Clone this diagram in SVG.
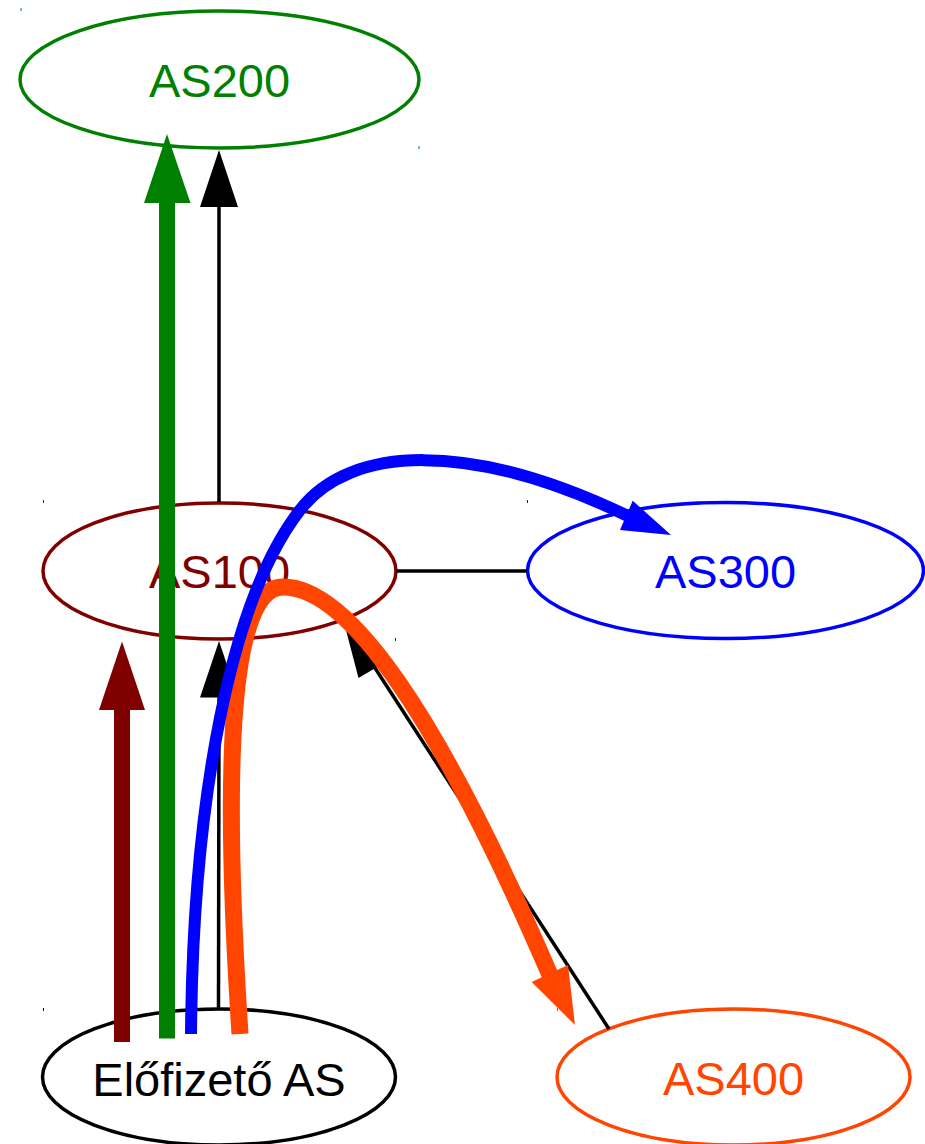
<svg xmlns="http://www.w3.org/2000/svg" width="925" height="1144" viewBox="0 0 925 1144">
<style>
  .node ellipse { fill: #ffffff; stroke-width: 3.5; }
  .node text { font-family: "Liberation Sans", Arial, sans-serif; font-size: 47px; text-anchor: middle; }
  .tick { stroke-width: 1; }
  .edge { fill: none; stroke: #000000; stroke-width: 3.5; }
  .route { fill: none; stroke-linecap: butt; }
</style>
<rect x="0" y="0" width="925" height="1144" fill="#ffffff"/>

<g id="AS200" class="node">
  <ellipse cx="219.5" cy="79.5" rx="199.5" ry="68.5" stroke="#008000"/>
  <text x="219.5" y="97" fill="#008000">AS200</text>
  <line class="tick" x1="21" y1="8" x2="21" y2="11" stroke="#008000"/>
  <line class="tick" x1="419" y1="146" x2="419" y2="149" stroke="#008000"/>
</g>

<g id="AS100" class="node">
  <ellipse cx="219.5" cy="571" rx="176.5" ry="68" stroke="#800000"/>
  <text x="219.5" y="588" fill="#800000">AS100</text>
  <line class="tick" x1="43.5" y1="500" x2="43.5" y2="503" stroke="#800000"/>
  <line class="tick" x1="395.5" y1="638" x2="395.5" y2="641" stroke="#800000"/>
</g>

<g id="AS300" class="node">
  <ellipse cx="725.5" cy="570.5" rx="198" ry="68" stroke="#0000ff"/>
  <text x="725.5" y="588" fill="#0000ff">AS300</text>
  <line class="tick" x1="527.5" y1="500" x2="527.5" y2="503" stroke="#0000ff"/>
</g>

<g id="AS400" class="node">
  <ellipse cx="733.5" cy="1077" rx="176.5" ry="68" stroke="#ff4500"/>
  <text x="733.5" y="1095" fill="#ff4500">AS400</text>
  <line class="tick" x1="557.5" y1="1008" x2="557.5" y2="1011" stroke="#ff4500"/>
</g>

<g id="Elofizeto" class="node">
  <ellipse cx="219" cy="1077" rx="176.5" ry="68" stroke="#000000"/>
  <text x="219" y="1096" fill="#000000">Előfizető AS</text>
  <line class="tick" x1="43.5" y1="1008" x2="43.5" y2="1011" stroke="#000000"/>
</g>

<g id="connectors">
  <!-- AS100 -> AS200 -->
  <line class="edge" x1="219" y1="502" x2="219" y2="206"/>
  <polygon points="200,207 238,207 219,150" fill="#000000"/>
  <!-- AS100 - AS300 -->
  <line class="edge" x1="396" y1="571" x2="527" y2="571"/>
  <!-- Előfizető -> AS100 -->
  <line class="edge" x1="218.5" y1="1009" x2="219" y2="696"/>
  <polygon points="200,697.5 238,697.5 219,641" fill="#000000"/>
  <!-- AS400 -> AS100 -->
  <line class="edge" x1="609" y1="1029" x2="375" y2="668"/>
  <polygon points="358.5,678 390.7,659 343.5,620.5" fill="#000000"/>

  <!-- maroon route -->
  <path class="route" d="M122,1042 L122,709" stroke="#800000" stroke-width="16"/>
  <polygon points="99,710 145,710 122,641.5" fill="#800000"/>
  <!-- green route -->
  <path class="route" d="M167,1038.5 L167,202" stroke="#008000" stroke-width="16"/>
  <polygon points="144,203 190.5,203 167,134" fill="#008000"/>
  <!-- orange route -->
  <path class="route" d="M240,1034 C222,760 230,587 283,587 C350,587 440,720 550,975" stroke="#ff4500" stroke-width="17"/>
  <polygon points="531.7,982 568,965 575,1025" fill="#ff4500"/>
  <!-- blue route -->
  <path class="route" d="M191,1034 C193,800 230,600 300,510 C350,445 470,440 628,516" stroke="#0000ff" stroke-width="12"/>
  <polygon points="620,530 632.7,500.7 671,535" fill="#0000ff"/>
</g>
</svg>
